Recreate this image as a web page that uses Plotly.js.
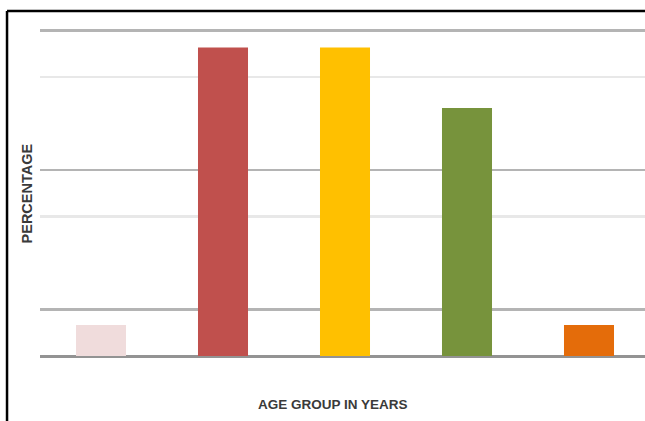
<!DOCTYPE html>
<html>
<head>
<meta charset="utf-8">
<script src="https://cdn.plot.ly/plotly-3.0.1.min.js"></script>
<style>
  html, body { margin: 0; padding: 0; background: #ffffff; }
  #chart { width: 645px; height: 421px; }
</style>
</head>
<body>
<div id="chart"></div>
<script>
// Data
const categories = ["< 20", "20 - 29", "30 - 39", "40 - 49", "50 +"];
const percentages = [6.67, 66.3, 66.3, 53.33, 6.67];
const barColors = ["#f0dcdc", "#c0504d", "#ffc000", "#77933c", "#e46c0a"];
const majorGrid = [10, 40, 70];
const minorGrid = [30, 60];
const xTitle = "AGE GROUP IN YEARS";
const yTitle = "PERCENTAGE";

const trace = {
  type: "bar",
  x: categories,
  y: percentages,
  marker: { color: barColors, line: { width: 0 } },
  hoverinfo: "x+y"
};

const layout = {
  width: 645,
  height: 421,
  margin: { l: 40, r: 0, t: 28, b: 65, pad: 0 },
  paper_bgcolor: "#ffffff",
  plot_bgcolor: "#ffffff",
  showlegend: false,
  bargap: 0.59,
  font: { family: "Liberation Sans, Arial, sans-serif", color: "#404040" },
  xaxis: {
    type: "category",
    range: [-0.5, 4.459],
    showticklabels: false,
    showgrid: false,
    zeroline: false,
    showline: false,
    ticks: "",
    fixedrange: true
  },
  yaxis: {
    range: [0, 70.5],
    tickmode: "array",
    tickvals: majorGrid,
    showticklabels: false,
    ticks: "",
    showgrid: true,
    gridcolor: "#b4b4b4",
    gridwidth: 2.5,
    minor: {
      tickmode: "array",
      tickvals: minorGrid,
      showgrid: true,
      gridcolor: "#e8e8e8",
      gridwidth: 2.5,
      ticks: ""
    },
    zeroline: true,
    zerolinecolor: "#939393",
    zerolinewidth: 3,
    showline: false,
    fixedrange: true
  },
  shapes: [
    {
      type: "line",
      xref: "paper", yref: "paper",
      x0: -0.0545, x1: 1.1,
      y0: 1.0518, y1: 1.0518,
      line: { color: "#000000", width: 2.5 },
      layer: "above"
    },
    {
      type: "line",
      xref: "paper", yref: "paper",
      x0: -0.0545, x1: -0.0545,
      y0: -0.3, y1: 1.0518,
      line: { color: "#000000", width: 2.5 },
      layer: "above"
    }
  ],
  annotations: [
    {
      text: "<b>" + xTitle + "</b>",
      xref: "paper", yref: "paper",
      x: 0.484, y: -0.149,
      xanchor: "center", yanchor: "middle",
      showarrow: false,
      font: { size: 13.5, color: "#3a3a3a" }
    },
    {
      text: "<b>" + yTitle + "</b>",
      xref: "paper", yref: "paper",
      x: -0.0207, y: 0.497,
      xanchor: "center", yanchor: "middle",
      textangle: -90,
      showarrow: false,
      font: { size: 14.5, color: "#3a3a3a" }
    }
  ]
};

Plotly.newPlot("chart", [trace], layout, { displayModeBar: false, staticPlot: true });
</script>
</body>
</html>
